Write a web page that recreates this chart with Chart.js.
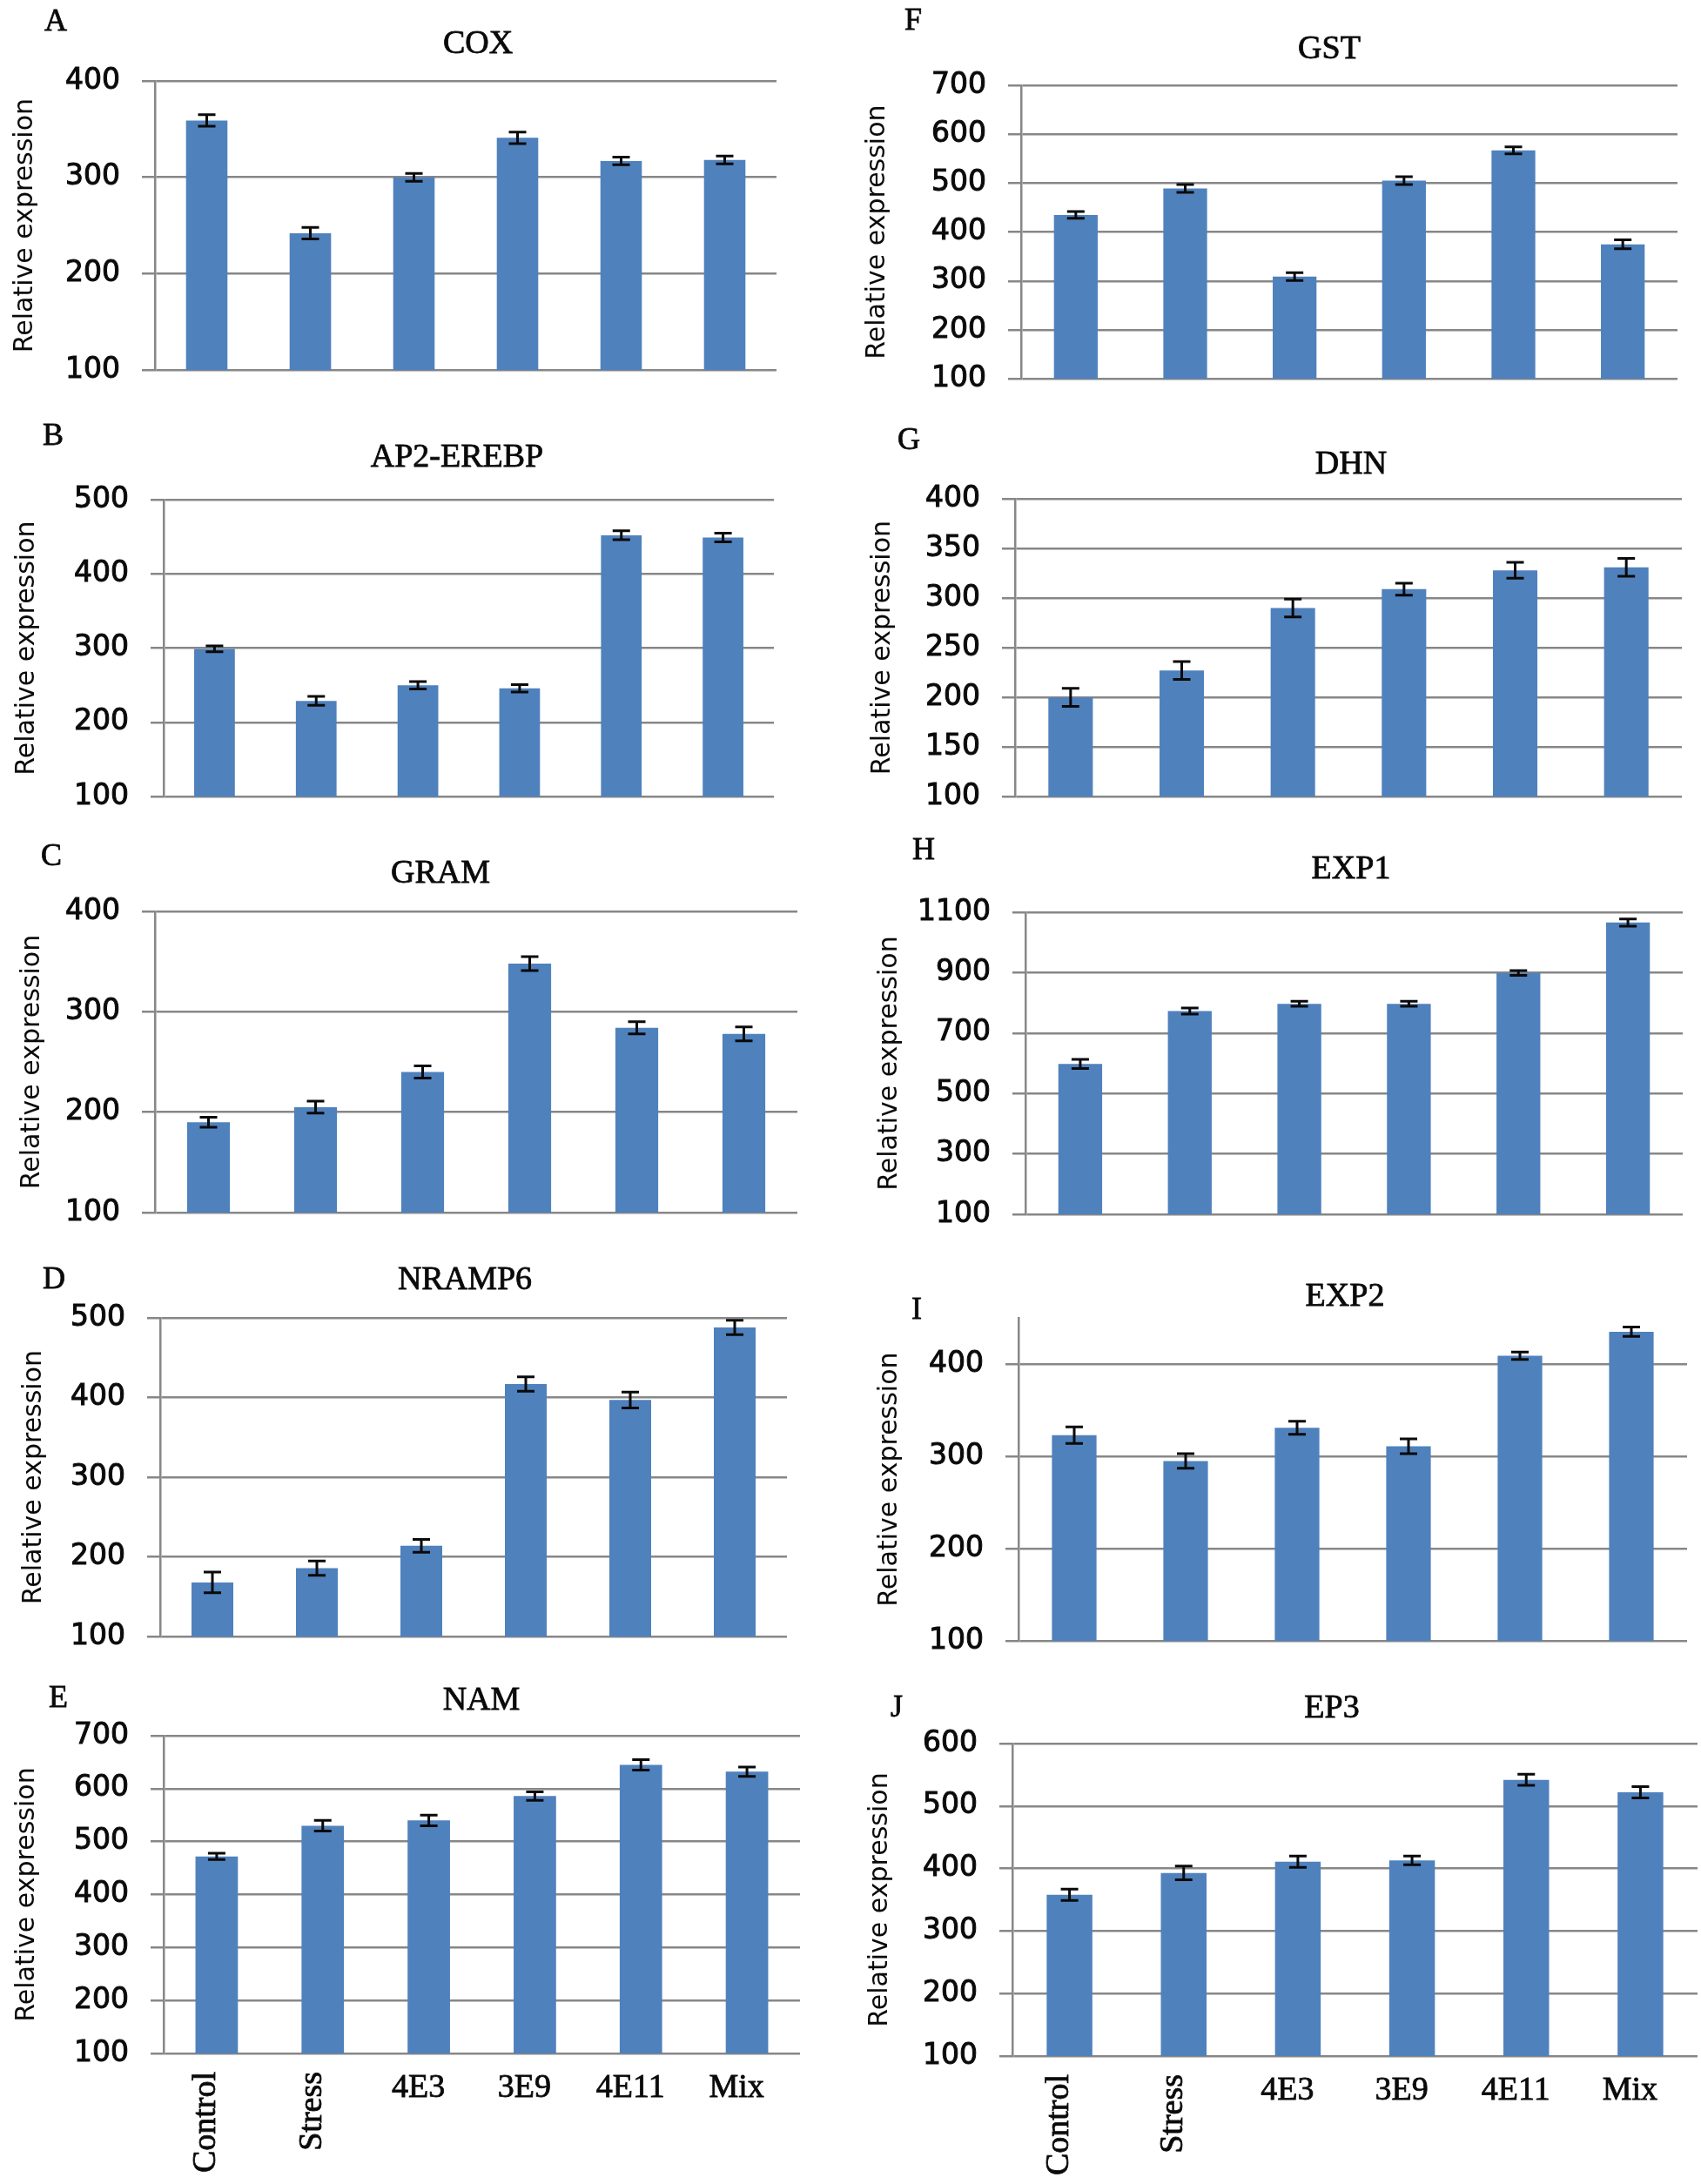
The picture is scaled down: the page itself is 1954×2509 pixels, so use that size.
<!DOCTYPE html>
<html>
<head>
<meta charset="utf-8">
<script src="https://cdn.jsdelivr.net/npm/chart.js@4.4.0/dist/chart.umd.min.js"></script>
<style>
  html, body { margin: 0; padding: 0; background: #fff; }
  #page { position: relative; width: 1954px; height: 2509px; overflow: hidden; background: #fff; }
  #page canvas { position: absolute; }
</style>
</head>
<body>
<div id="page"></div>
<script>
/* ── data ────────────────────────────────────────────────────────── */
const GROUPS = ["Control", "Stress", "4E3", "3E9", "4E11", "Mix"];
const ROTATED = ["Control", "Stress"];

const COX_MEAN    = [359, 242, 300, 341, 317, 318];
const COX_ERR     = [6, 6, 4, 6, 4, 4];
const AP2_MEAN    = [299, 229, 250, 246, 452, 449];
const AP2_ERR     = [4, 6, 5, 5, 6, 6];
const GRAM_MEAN   = [190, 205, 240, 348, 284, 278];
const GRAM_ERR    = [5, 6, 6, 7, 6, 7];
const NRAMP6_MEAN = [168, 186, 214, 417, 397, 488];
const NRAMP6_ERR  = [13, 9, 8, 9, 10, 9];
const NAM_MEAN    = [472, 530, 540, 586, 645, 632];
const NAM_ERR     = [6, 10, 10, 8, 10, 9];
const GST_MEAN    = [435, 489, 309, 505, 567, 375];
const GST_ERR     = [7, 8, 8, 8, 7, 9];
const DHN_MEAN    = [200, 227, 290, 309, 328, 331];
const DHN_ERR     = [9, 9, 9, 6, 8, 9];
const EXP1_MEAN   = [598, 773, 797, 797, 899, 1066];
const EXP1_ERR    = [15, 10, 8, 8, 8, 12];
const EXP2_MEAN   = [323, 295, 331, 311, 409, 435];
const EXP2_ERR    = [9, 8, 7, 8, 4, 5];
const EP3_MEAN    = [358, 393, 411, 413, 542, 522];
const EP3_ERR     = [9, 11, 9, 7, 9, 9];

/* y axis: [min, max, step] */
const COX_AXIS    = [100, 400, 100];
const AP2_AXIS    = [100, 500, 100];
const GRAM_AXIS   = [100, 400, 100];
const NRAMP6_AXIS = [100, 500, 100];
const NAM_AXIS    = [100, 700, 100];
const GST_AXIS    = [100, 700, 100];
const DHN_AXIS    = [100, 400, 50];
const EXP1_AXIS   = [100, 1100, 200];
const EXP2_AXIS   = [100, 450, 100];
const EP3_AXIS    = [100, 600, 100];

/* ── look ────────────────────────────────────────────────────────── */
const BAR   = "#4f81bd";
const GRID  = "#878787";
const INK   = "#0a0a0a";
const SANS  = "'DejaVu Sans', Verdana, sans-serif";
const SERIF = "'Liberation Serif', 'Times New Roman', serif";

/* ── panel layout, page px: cell [x, y, w, h], plot [left, top, right, bottom] ── */
const PANELS = [
  { letter: "A", gene: "COX",       mean: COX_MEAN,    err: COX_ERR,    axis: COX_AXIS,
    cell: [0, 0, 977, 470],      plot: [178, 93, 892, 432],    yTitleX: 29,   letterAt: [64, 26],    titleAt: [549, 51] },
  { letter: "B", gene: "AP2-EREBP", mean: AP2_MEAN,    err: AP2_ERR,    axis: AP2_AXIS,
    cell: [0, 470, 977, 490],    plot: [188, 574, 889, 932],   yTitleX: 31,   letterAt: [61, 502],   titleAt: [525, 526] },
  { letter: "C", gene: "GRAM",      mean: GRAM_MEAN,   err: GRAM_ERR,   axis: GRAM_AXIS,
    cell: [0, 960, 977, 480],    plot: [178, 1047, 916, 1393], yTitleX: 37,   letterAt: [59, 985],   titleAt: [506, 1004] },
  { letter: "D", gene: "NRAMP6",    mean: NRAMP6_MEAN, err: NRAMP6_ERR, axis: NRAMP6_AXIS,
    cell: [0, 1440, 977, 485],   plot: [184, 1514, 904, 1881], yTitleX: 39,   letterAt: [62, 1471],  titleAt: [534, 1471] },
  { letter: "E", gene: "NAM",       mean: NAM_MEAN,    err: NAM_ERR,    axis: NAM_AXIS,
    cell: [0, 1925, 977, 584],   plot: [188, 1994, 919, 2359], yTitleX: 31,   letterAt: [67, 1952],  titleAt: [553, 1954], xLabels: true },
  { letter: "F", gene: "GST",       mean: GST_MEAN,    err: GST_ERR,    axis: GST_AXIS,
    cell: [977, 0, 977, 480],    plot: [1173, 98, 1927, 447],  yTitleX: 1008, letterAt: [1049, 25],  titleAt: [1527, 57] },
  { letter: "G", gene: "DHN",       mean: DHN_MEAN,    err: DHN_ERR,    axis: DHN_AXIS,
    cell: [977, 480, 977, 480],  plot: [1166, 573, 1932, 918], yTitleX: 1014, letterAt: [1044, 507], titleAt: [1552, 534] },
  { letter: "H", gene: "EXP1",      mean: EXP1_MEAN,   err: EXP1_ERR,   axis: EXP1_AXIS,
    cell: [977, 960, 977, 500],  plot: [1178, 1048, 1933, 1395], yTitleX: 1022, letterAt: [1061, 978], titleAt: [1552, 999] },
  { letter: "I", gene: "EXP2",      mean: EXP2_MEAN,   err: EXP2_ERR,   axis: EXP2_AXIS,
    cell: [977, 1460, 977, 470], plot: [1170, 1514, 1938, 1896], yTitleX: 1022, letterAt: [1053, 1506], titleAt: [1545, 1490] },
  { letter: "J", gene: "EP3",       mean: EP3_MEAN,    err: EP3_ERR,    axis: EP3_AXIS,
    cell: [977, 1930, 977, 579], plot: [1163, 2003, 1950, 2362], yTitleX: 1011, letterAt: [1030, 1963], titleAt: [1530, 1963], xLabels: true },
];

/* ── error bars (mean ± err through the y scale) ─────────────────── */
function errorBars(p) {
  return {
    id: "errorBars",
    afterDatasetsDraw(chart) {
      const { ctx } = chart;
      const y = chart.scales.y;
      const bars = chart.getDatasetMeta(0).data;
      ctx.save();
      ctx.strokeStyle = INK;
      ctx.lineWidth = 3;
      bars.forEach((bar, i) => {
        const top = y.getPixelForValue(p.mean[i] + p.err[i]);
        const bot = y.getPixelForValue(p.mean[i] - p.err[i]);
        ctx.beginPath();
        ctx.moveTo(bar.x, top);       ctx.lineTo(bar.x, bot);
        ctx.moveTo(bar.x - 10, top);  ctx.lineTo(bar.x + 10, top);
        ctx.moveTo(bar.x - 10, bot);  ctx.lineTo(bar.x + 10, bot);
        ctx.stroke();
      });
      ctx.restore();
    },
  };
}

/* ── panel letter, gene title, category labels ───────────────────── */
function inkText(ctx, s, x, y) {
  ctx.fillText(s, x, y);
  ctx.strokeText(s, x, y);   // a touch heavier, like the scanned figure
}

function panelText(p) {
  return {
    id: "panelText",
    afterDraw(chart) {
      const { ctx } = chart;
      const [cx, cy] = p.cell;
      ctx.save();
      ctx.fillStyle = INK;
      ctx.strokeStyle = INK;
      ctx.lineWidth = 0.8;
      ctx.textAlign = "center";
      ctx.textBaseline = "middle";
      ctx.font = `36px ${SERIF}`;
      inkText(ctx, p.letter, p.letterAt[0] - cx, p.letterAt[1] - cy);
      ctx.font = `38px ${SERIF}`;
      inkText(ctx, p.gene, p.titleAt[0] - cx, p.titleAt[1] - cy);
      if (p.xLabels) {
        const x = chart.scales.x;
        const base = chart.chartArea.bottom;
        GROUPS.forEach((g, i) => {
          const px = x.getPixelForValue(i) - 12;
          if (ROTATED.includes(g)) {
            ctx.save();
            ctx.translate(px, base + 21);
            ctx.rotate(-Math.PI / 2);
            ctx.textAlign = "right";
            inkText(ctx, g, 0, 0);
            ctx.restore();
          } else {
            inkText(ctx, g, px, base + 40);
          }
        });
      }
      ctx.restore();
    },
  };
}

function drawPanel(p) {
  const page = document.getElementById("page");
  const [cx, cy, cw, ch] = p.cell;
  const [L, T, R, B] = p.plot;
  const [yMin, yMax, yStep] = p.axis;

  const cv = document.createElement("canvas");
  cv.width = cw;
  cv.height = ch;
  cv.style.left = cx + "px";
  cv.style.top = cy + "px";
  cv.style.width = cw + "px";
  cv.style.height = ch + "px";
  page.appendChild(cv);

  new Chart(cv, {
    type: "bar",
    data: {
      labels: GROUPS,
      datasets: [{
        data: p.mean,
        backgroundColor: BAR,
        borderWidth: 0,
        barPercentage: 0.4,
        categoryPercentage: 1,
      }],
    },
    options: {
      responsive: false,
      animation: false,
      devicePixelRatio: 1,
      layout: { padding: { left: 0, top: T - cy, right: cx + cw - R, bottom: cy + ch - B } },
      plugins: {
        legend: { display: false },
        title: { display: false },
        tooltip: { enabled: false },
      },
      scales: {
        x: {
          grid: { display: false },
          border: { display: false },
          ticks: { display: false },
          afterFit: (s) => { s.height = 0; },
        },
        y: {
          min: yMin,
          max: yMax,
          ticks: {
            stepSize: yStep,
            padding: 25,
            color: INK,
            textStrokeColor: INK,
            textStrokeWidth: 1,
            font: { family: SANS, size: 33 },
            callback: (v) => String(v),
          },
          afterBuildTicks: (s) => { s.ticks = s.ticks.filter((t) => (t.value - yMin) % yStep === 0); },
          afterFit: (s) => { s.width = L - cx; },
          grid: { color: GRID, lineWidth: 2.5, drawTicks: true, tickLength: 15, tickColor: GRID },
          border: { display: true, color: GRID, width: 2.5 },
          title: {
            display: true,
            text: "Relative expression",
            color: INK,
            font: { family: SANS, size: 30, lineHeight: 1.2 },
            padding: { top: p.yTitleX - cx - 18, bottom: 0 },
          },
        },
      },
    },
    plugins: [errorBars(p), panelText(p)],
  });
}

PANELS.forEach(drawPanel);
</script>
</body>
</html>
